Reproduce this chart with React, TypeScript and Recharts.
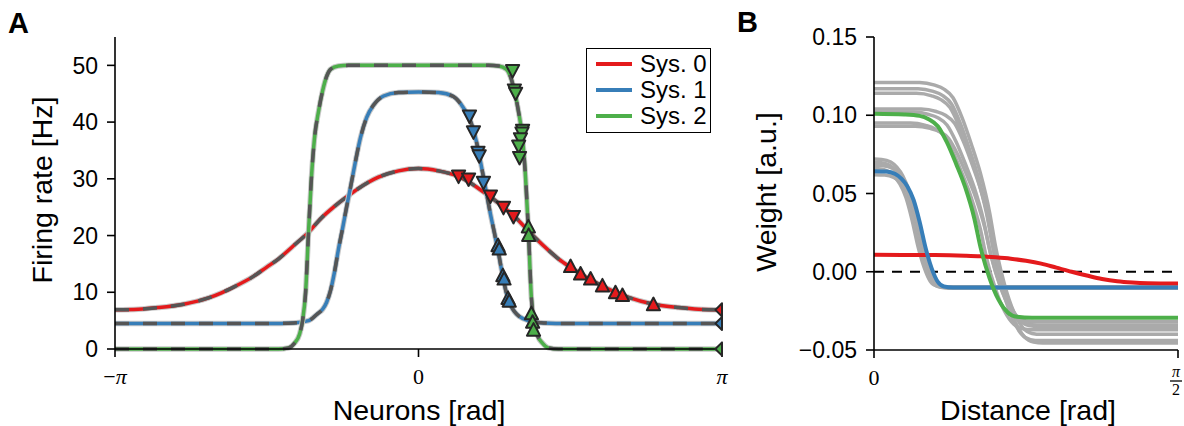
import React from 'react';
import { ComposedChart, Line, Scatter, XAxis, YAxis, ReferenceLine, Legend } from 'recharts';

const FONT = '"Liberation Sans", Arial, Helvetica, sans-serif';
const SERIF = '"Liberation Serif", "DejaVu Serif", serif';

const SYS_NAMES = ['Sys. 0', 'Sys. 1', 'Sys. 2'];
const SYS_COLORS = ['#e41a1c', '#377eb8', '#4daf4a'];

// ---- Panel A: firing rate, x in units of pi ----
const sys0Theta = [-1, -0.923, -0.857, -0.774, -0.692, -0.649, -0.606, -0.544, -0.501, -0.461, -0.412, -0.362, -0.32, -0.28, -0.237, -0.198, -0.165, -0.132, -0.066, 0, 0.066, 0.132, 0.165, 0.198, 0.237, 0.28, 0.32, 0.362, 0.412, 0.461, 0.501, 0.544, 0.606, 0.649, 0.692, 0.774, 0.857, 0.923, 1];
const sys0Rate = [6.9, 7.0, 7.3, 7.9, 9.0, 9.9, 11.0, 12.8, 14.4, 15.9, 18.2, 20.6, 23.1, 25.0, 26.8, 28.3, 29.4, 30.3, 31.4, 31.8, 31.4, 30.4, 29.5, 28.3, 26.8, 25.0, 23.2, 20.8, 18.2, 15.9, 14.4, 12.9, 11.1, 10.0, 9.1, 7.9, 7.3, 7.0, 6.9];

const sys1Theta = [-1, -0.494, -0.412, -0.362, -0.333, -0.316, -0.303, -0.29, -0.277, -0.264, -0.25, -0.237, -0.224, -0.208, -0.191, -0.171, -0.148, -0.115, -0.066, 0, 0.066, 0.115, 0.148, 0.171, 0.191, 0.208, 0.224, 0.237, 0.25, 0.264, 0.277, 0.29, 0.303, 0.316, 0.333, 0.362, 0.412, 0.494, 1];
const sys1Rate = [4.5, 4.5, 4.6, 5.0, 6.2, 7.0, 8.2, 10.3, 13.5, 17.5, 21.3, 25.0, 28.5, 33.0, 37.3, 40.8, 43.0, 44.6, 45.2, 45.3, 45.2, 44.5, 42.5, 40.2, 36.5, 32.0, 27.5, 23.8, 20.5, 16.8, 13.0, 9.8, 7.8, 6.6, 5.7, 5.0, 4.6, 4.5, 4.5];

const sys2Theta = [-1, -0.461, -0.428, -0.409, -0.392, -0.382, -0.372, -0.362, -0.353, -0.343, -0.329, -0.316, -0.303, -0.29, -0.264, -0.231, 0, 0.231, 0.264, 0.29, 0.303, 0.316, 0.329, 0.343, 0.353, 0.362, 0.372, 0.382, 0.392, 0.409, 0.428, 0.461, 1];
const sys2Rate = [0, 0, 0.2, 1.0, 2.6, 5.0, 10, 21, 30, 37, 42, 45.5, 48, 49.3, 49.9, 50, 50, 50, 49.9, 49.3, 48, 45.5, 42, 37, 30, 21, 9, 4.5, 2.4, 1.0, 0.2, 0, 0];

// markers on the flanks (down = falling side top, up = lower part)
const sys0DownX = [0.132, 0.165, 0.237, 0.28, 0.313];
const sys0DownY = [30.4, 29.9, 26.9, 24.9, 23.3];
const sys0UpX = [0.501, 0.534, 0.567, 0.606, 0.649, 0.672, 0.774];
const sys0UpY = [14.6, 13.3, 12.4, 11.2, 10.0, 9.5, 7.9];
const sys1DownX = [0.168, 0.181, 0.196, 0.2, 0.214];
const sys1DownY = [41.0, 38.2, 34.6, 34.0, 29.3];
const sys1UpX = [0.262, 0.266, 0.278, 0.282, 0.295, 0.299];
const sys1UpY = [18.3, 17.7, 13.0, 12.4, 9.0, 8.5];
const sys2DownX = [0.31, 0.316, 0.32, 0.343, 0.341, 0.336, 0.33, 0.333];
const sys2DownY = [49.0, 45.6, 45.0, 38.5, 38.0, 37.0, 35.7, 33.7];
const sys2UpX = [0.362, 0.363, 0.372, 0.376, 0.379];
const sys2UpY = [21.6, 20.1, 6.3, 4.8, 3.4];
const edgeX = [1, 1, 1];
const edgeY = [6.9, 4.5, 0];

// ---- Panel B: weights, x as fraction of pi/2 ----
const sys0Dist = [0, 0.2, 0.3, 0.35, 0.4, 0.45, 0.5, 0.55, 0.6, 0.65, 0.7, 0.75, 0.8, 0.85, 0.9, 1.0];
const sys0Weight = [0.0108, 0.0107, 0.0103, 0.0099, 0.0092, 0.0083, 0.007, 0.0052, 0.0026, 0.0, -0.0024, -0.0046, -0.0061, -0.0069, -0.0073, -0.0075];
const sys1Dist = [0, 0.04, 0.07, 0.09, 0.11, 0.13, 0.15, 0.17, 0.19, 0.21, 0.23, 0.26, 0.3, 1.0];
const sys1Weight = [0.0642, 0.064, 0.0625, 0.0595, 0.0545, 0.046, 0.032, 0.015, 0.002, -0.0065, -0.0094, -0.01, -0.01, -0.01];
const sys2Dist = [0, 0.1, 0.15, 0.18, 0.21, 0.24, 0.27, 0.3, 0.33, 0.35, 0.38, 0.41, 0.44, 0.47, 0.52, 1.0];
const sys2Weight = [0.101, 0.1005, 0.0996, 0.0975, 0.093, 0.0826, 0.069, 0.054, 0.034, 0.016, -0.004, -0.018, -0.026, -0.0288, -0.0294, -0.0294];

// simulated runs (grey), around sys 2
const grayWideDist = [
  [0, 0.15, 0.2, 0.23, 0.26, 0.29, 0.32, 0.35, 0.38, 0.4, 0.43, 0.46, 0.49, 0.52, 0.55, 1.0],
  [0, 0.145, 0.195, 0.225, 0.255, 0.285, 0.315, 0.345, 0.375, 0.395, 0.425, 0.455, 0.485, 0.515, 0.545, 1.0],
  [0, 0.14, 0.19, 0.22, 0.25, 0.28, 0.31, 0.34, 0.37, 0.39, 0.42, 0.45, 0.48, 0.51, 0.54, 1.0],
  [0, 0.155, 0.205, 0.235, 0.265, 0.295, 0.325, 0.355, 0.385, 0.405, 0.435, 0.465, 0.495, 0.525, 0.555, 1.0],
  [0, 0.13, 0.18, 0.21, 0.24, 0.27, 0.3, 0.33, 0.36, 0.38, 0.41, 0.44, 0.47, 0.5, 0.53, 1.0],
  [0, 0.12, 0.17, 0.2, 0.23, 0.26, 0.29, 0.32, 0.35, 0.37, 0.4, 0.43, 0.46, 0.49, 0.52, 1.0],
  [0, 0.135, 0.185, 0.215, 0.245, 0.275, 0.305, 0.335, 0.365, 0.385, 0.415, 0.445, 0.475, 0.505, 0.535, 1.0],
];
const grayWideWeight = [
  [0.121, 0.121, 0.1192, 0.1167, 0.1112, 0.0983, 0.0816, 0.0629, 0.0382, 0.016, -0.0086, -0.0258, -0.0358, -0.0394, -0.04, -0.04],
  [0.117, 0.117, 0.1152, 0.1127, 0.1072, 0.0943, 0.0776, 0.0589, 0.0342, 0.012, -0.0126, -0.0298, -0.0398, -0.0434, -0.044, -0.044],
  [0.114, 0.114, 0.1124, 0.11, 0.1049, 0.093, 0.0775, 0.0602, 0.0374, 0.0169, -0.0059, -0.0219, -0.0311, -0.0344, -0.035, -0.035],
  [0.104, 0.104, 0.1024, 0.1, 0.0949, 0.0829, 0.0674, 0.05, 0.0272, 0.0065, -0.0163, -0.0323, -0.0416, -0.0449, -0.0455, -0.0455],
  [0.102, 0.102, 0.1005, 0.0984, 0.0938, 0.0831, 0.0692, 0.0536, 0.0331, 0.0146, -0.0059, -0.0202, -0.0285, -0.0315, -0.032, -0.032],
  [0.095, 0.095, 0.0935, 0.0914, 0.087, 0.0764, 0.0627, 0.0473, 0.0272, 0.0089, -0.0113, -0.0254, -0.0336, -0.0365, -0.037, -0.037],
  [0.093, 0.093, 0.0916, 0.0896, 0.0853, 0.0751, 0.0619, 0.0472, 0.0277, 0.0102, -0.0092, -0.0228, -0.0307, -0.0335, -0.034, -0.034],
];
// simulated runs (grey), around sys 1
const grayNarrowDist = [
  [0, 0.025, 0.055, 0.075, 0.095, 0.115, 0.135, 0.155, 0.175, 0.195, 0.215, 0.245, 1.0],
  [0, 0.02, 0.05, 0.07, 0.09, 0.11, 0.13, 0.15, 0.17, 0.19, 0.21, 0.24, 1.0],
  [0, 0.03, 0.06, 0.08, 0.1, 0.12, 0.14, 0.16, 0.18, 0.2, 0.22, 0.25, 1.0],
  [0, 0.015, 0.045, 0.065, 0.085, 0.105, 0.125, 0.145, 0.165, 0.185, 0.205, 0.235, 1.0],
  [0, 0.035, 0.065, 0.085, 0.105, 0.125, 0.145, 0.165, 0.185, 0.205, 0.225, 0.255, 1.0],
];
const grayNarrowWeight = [
  [0.072, 0.0718, 0.0701, 0.0668, 0.0612, 0.0518, 0.0362, 0.0173, 0.0029, -0.0066, -0.0098, -0.0105, -0.0105],
  [0.07, 0.0698, 0.0682, 0.065, 0.0596, 0.0505, 0.0354, 0.0171, 0.0031, -0.0061, -0.0092, -0.0098, -0.0098],
  [0.068, 0.0678, 0.0662, 0.0631, 0.0578, 0.0488, 0.0341, 0.0162, 0.0025, -0.0065, -0.0096, -0.0102, -0.0102],
  [0.066, 0.0658, 0.0643, 0.0612, 0.0561, 0.0475, 0.0332, 0.0159, 0.0027, -0.0061, -0.009, -0.0096, -0.0096],
  [0.062, 0.0618, 0.0603, 0.0575, 0.0526, 0.0444, 0.0308, 0.0143, 0.0017, -0.0066, -0.0094, -0.01, -0.01],
];

const zip = (xs: number[], ys: number[]) => xs.map((x, i) => ({ x, y: ys[i] }));

const axisStyle = { stroke: '#000', strokeWidth: 1.6 };

const triangle = (dir: 'up' | 'down' | 'left', fill: string) => (props: any) => {
  const { cx, cy } = props;
  const s = 6.6;
  const pts =
    dir === 'up'
      ? [[cx, cy - s], [cx - s, cy + s * 0.9], [cx + s, cy + s * 0.9]]
      : dir === 'down'
      ? [[cx, cy + s], [cx - s, cy - s * 0.9], [cx + s, cy - s * 0.9]]
      : [[cx - s, cy], [cx, cy - s], [cx, cy + s]];
  return (
    <polygon
      points={pts.map((p) => p.join(',')).join(' ')}
      fill={fill}
      stroke="#262626"
      strokeWidth={2}
      strokeLinejoin="round"
    />
  );
};

function PiTick({ x, y, payload }: any) {
  const v = payload.value;
  return (
    <text x={x} y={y + 27} textAnchor="middle" fontFamily={SERIF} fontSize={22} fill="#000">
      {v === 0 ? '0' : (
        <>
          {v < 0 && <tspan>−</tspan>}
          <tspan fontStyle="italic">π</tspan>
        </>
      )}
    </text>
  );
}

function HalfPiTick({ x, y, payload }: any) {
  if (payload.value === 0) {
    return (
      <text x={x} y={y + 27} textAnchor="middle" fontFamily={SERIF} fontSize={22} fill="#000">0</text>
    );
  }
  return (
    <g fontFamily={SERIF} fill="#000">
      <text x={x - 2} y={y + 19} textAnchor="middle" fontSize={16} fontStyle="italic">π</text>
      <line x1={x - 8} x2={x + 4} y1={y + 23} y2={y + 23} stroke="#000" strokeWidth={1.3} />
      <text x={x - 2} y={y + 37} textAnchor="middle" fontSize={16}>2</text>
    </g>
  );
}

function LegendBox() {
  return (
    <div
      style={{
        border: '1.6px solid #000',
        background: '#fff',
        width: 125,
        height: 85,
        boxSizing: 'border-box',
        padding: '2px 0 0 9px',
        fontFamily: FONT,
        fontSize: 24,
        color: '#000',
      }}
    >
      {SYS_NAMES.map((name, i) => (
        <div key={name} style={{ display: 'flex', alignItems: 'center', height: 26 }}>
          <span style={{ display: 'inline-block', width: 36, height: 4, background: SYS_COLORS[i], marginRight: 8 }} />
          {name}
        </div>
      ))}
    </div>
  );
}

function PanelA() {
  const curves = [zip(sys0Theta, sys0Rate), zip(sys1Theta, sys1Rate), zip(sys2Theta, sys2Rate)];
  const downs = [zip(sys0DownX, sys0DownY), zip(sys1DownX, sys1DownY), zip(sys2DownX, sys2DownY)];
  const ups = [zip(sys0UpX, sys0UpY), zip(sys1UpX, sys1UpY), zip(sys2UpX, sys2UpY)];
  const edges = zip(edgeX, edgeY);
  return (
    <ComposedChart width={740} height={426} margin={{ top: 37, right: 18, bottom: 27, left: 0 }}>
      <XAxis
        type="number"
        dataKey="x"
        domain={[-1, 1]}
        ticks={[-1, 0, 1]}
        interval={0}
        height={50}
        axisLine={axisStyle}
        tickLine={axisStyle}
        tickSize={8}
        tickMargin={0}
        tick={<PiTick />}
      />
      <YAxis
        type="number"
        dataKey="y"
        domain={[0, 55]}
        ticks={[0, 10, 20, 30, 40, 50]}
        interval={0}
        width={115}
        axisLine={axisStyle}
        tickLine={axisStyle}
        tickSize={8}
        tickMargin={9}
        tick={{ fill: '#000', fontSize: 23, fontFamily: FONT }}
      />
      {curves.map((d, i) => [
        <Line key={`sim${i}`} data={d} dataKey="y" type="monotone" stroke="#c8c8c8" strokeWidth={5.5} dot={false} activeDot={false} legendType="none" isAnimationActive={false} />,
        <Line key={`col${i}`} data={d} dataKey="y" type="monotone" stroke={SYS_COLORS[i]} strokeWidth={3.5} dot={false} activeDot={false} legendType="none" isAnimationActive={false} />,
        <Line key={`thy${i}`} data={d} dataKey="y" type="monotone" stroke="#555555" strokeWidth={3.5} strokeDasharray="14 14" dot={false} activeDot={false} legendType="none" isAnimationActive={false} />,
      ])}
      {downs.map((d, i) => (
        <Scatter key={`dn${i}`} data={d} dataKey="y" shape={triangle('down', SYS_COLORS[i])} legendType="none" isAnimationActive={false} />
      ))}
      {ups.map((d, i) => (
        <Scatter key={`up${i}`} data={d} dataKey="y" shape={triangle('up', SYS_COLORS[i])} legendType="none" isAnimationActive={false} />
      ))}
      {edges.map((p, i) => (
        <Scatter key={`edge${i}`} data={[p]} dataKey="y" shape={triangle('left', SYS_COLORS[i])} legendType="none" isAnimationActive={false} />
      ))}
      <Legend
        layout="vertical"
        align="center"
        verticalAlign="middle"
        content={() => <LegendBox />}
        wrapperStyle={{ left: 586, top: 48, width: 125 }}
      />
    </ComposedChart>
  );
}

function PanelB() {
  const curves = [zip(sys0Dist, sys0Weight), zip(sys1Dist, sys1Weight), zip(sys2Dist, sys2Weight)];
  const grays = [
    ...grayNarrowDist.map((xs, i) => zip(xs, grayNarrowWeight[i])),
    ...grayWideDist.map((xs, i) => zip(xs, grayWideWeight[i])),
  ];
  return (
    <ComposedChart width={444} height={426} margin={{ top: 37, right: 6, bottom: 26, left: 0 }}>
      <XAxis
        type="number"
        dataKey="x"
        domain={[0, 1]}
        ticks={[0, 1]}
        interval={0}
        height={50}
        axisLine={axisStyle}
        tickLine={axisStyle}
        tickSize={8}
        tickMargin={0}
        tick={<HalfPiTick />}
      />
      <YAxis
        type="number"
        dataKey="y"
        domain={[-0.05, 0.15]}
        ticks={[-0.05, 0, 0.05, 0.1, 0.15]}
        interval={0}
        width={134}
        axisLine={axisStyle}
        tickLine={axisStyle}
        tickSize={8}
        tickMargin={9}
        tickFormatter={(v: number) => v.toFixed(2).replace('-', '−')}
        tick={{ fill: '#000', fontSize: 23, fontFamily: FONT }}
      />
      <ReferenceLine y={0} stroke="#000" strokeWidth={2} strokeDasharray="10 8" />
      {grays.map((d, i) => (
        <Line key={`g${i}`} data={d} dataKey="y" type="monotone" stroke="#aaaaaa" strokeWidth={3.5} dot={false} activeDot={false} legendType="none" isAnimationActive={false} />
      ))}
      {curves.map((d, i) => (
        <Line key={`c${i}`} data={d} dataKey="y" type="monotone" stroke={SYS_COLORS[i]} strokeWidth={4} dot={false} activeDot={false} legendType="none" isAnimationActive={false} />
      ))}
    </ComposedChart>
  );
}

export default function App() {
  return (
    <div style={{ position: 'absolute', left: 0, top: 0, width: 1184, height: 426, background: '#fff' }}>
      <div style={{ position: 'absolute', left: 0, top: 0 }}>
        <PanelA />
      </div>
      <div style={{ position: 'absolute', left: 740, top: 0 }}>
        <PanelB />
      </div>
      <svg width={1184} height={426} style={{ position: 'absolute', left: 0, top: 0, pointerEvents: 'none' }}>
        <g fontFamily={FONT} fill="#000">
          <text x={8} y={33} fontSize={29} fontWeight="bold">A</text>
          <text x={737} y={32} fontSize={29} fontWeight="bold">B</text>
          <text x={52} y={190} fontSize={28.5} textAnchor="middle" transform="rotate(-90 52 190)">Firing rate [Hz]</text>
          <text x={419} y={420} fontSize={28.5} textAnchor="middle">Neurons [rad]</text>
          <text x={776} y={192} fontSize={28.5} textAnchor="middle" transform="rotate(-90 776 192)">Weight [a.u.]</text>
          <text x={1028} y={420} fontSize={28.5} textAnchor="middle">Distance [rad]</text>
        </g>
      </svg>
    </div>
  );
}
